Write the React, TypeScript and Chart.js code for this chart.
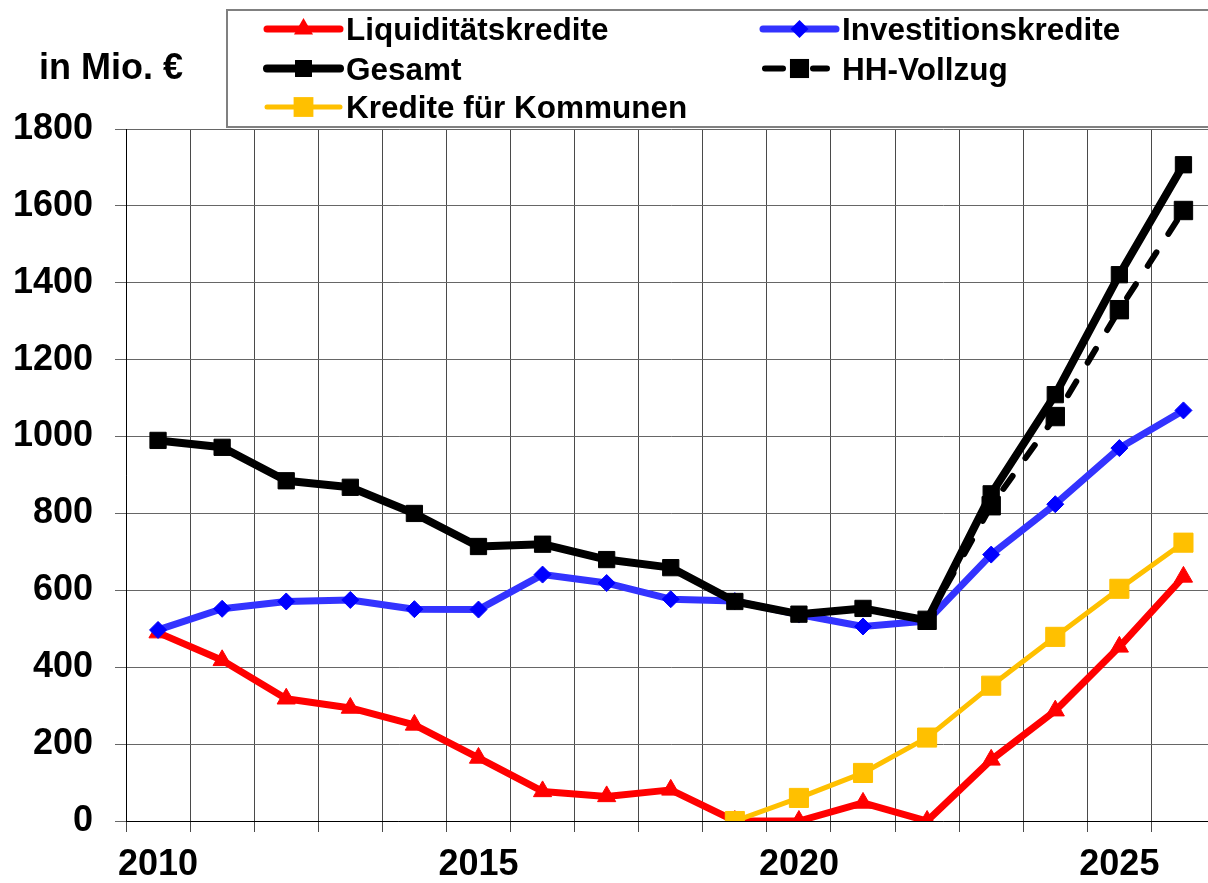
import React, { useEffect, useRef } from 'react';
import { Chart, registerables } from 'chart.js';

Chart.register(...registerables);

const years = ['2010', '2011', '2012', '2013', '2014', '2015', '2016', '2017', '2018', '2019', '2020', '2021', '2022', '2023', '2024', '2025', '2026'];
const liquiditaetskredite = [490, 418, 318, 294, 250, 164, 77, 64, 81, 0, 0, 47, 0, 159, 287, 453, 635];
const investitionskredite = [497, 552, 571, 575, 551, 550, 641, 619, 577, 572, 537, 506, 520, 693, 824, 970, 1068];
const gesamt = [990, 972, 885, 868, 800, 714, 720, 680, 659, 571, 538, 553, 522, 851, 1109, 1421, 1707];
const hhVollzug = [null, null, null, null, null, null, null, null, null, null, null, null, 522, 820, 1052, 1330, 1588];
const krediteKommunen = [null, null, null, null, null, null, null, null, null, 0, 60, 125, 217, 352, 479, 604, 724];
const yTicks = [0, 200, 400, 600, 800, 1000, 1200, 1400, 1600, 1800];
const xLabelYears = ['2010', '2015', '2020', '2025'];

const FONT = '"Liberation Sans", Arial, sans-serif';

function drawMarker(ctx: CanvasRenderingContext2D, style: string, x: number, y: number, r: number, color: string) {
  ctx.fillStyle = color;
  ctx.beginPath();
  if (style === 'rect') {
    const s = Math.SQRT1_2 * r;
    ctx.rect(x - s, y - s, 2 * s, 2 * s);
  } else if (style === 'rectRot') {
    ctx.moveTo(x - r, y);
    ctx.lineTo(x, y - r);
    ctx.lineTo(x + r, y);
    ctx.lineTo(x, y + r);
    ctx.closePath();
  } else if (style === 'triangle') {
    const a = (2 * Math.PI) / 3;
    ctx.moveTo(x, y - r);
    ctx.lineTo(x + Math.sin(a) * r, y - Math.cos(a) * r);
    ctx.lineTo(x + Math.sin(2 * a) * r, y - Math.cos(2 * a) * r);
    ctx.closePath();
  }
  ctx.fill();
}

const overlayPlugin = {
  id: 'overlay',
  afterDraw(chart: any) {
    const ctx: CanvasRenderingContext2D = chart.ctx;
    ctx.save();
    // unit title
    ctx.font = `bold 36px ${FONT}`;
    ctx.fillStyle = '#000';
    ctx.textAlign = 'left';
    ctx.textBaseline = 'alphabetic';
    ctx.fillText('in Mio. €', 39, 79);

    // legend box
    ctx.fillStyle = '#fff';
    ctx.fillRect(227, 10, 1100, 117);
    ctx.strokeStyle = '#808080';
    ctx.lineWidth = 2;
    ctx.strokeRect(227, 10, 1100, 117);

    const items = [
      { ds: 4, x: 267, y: 29 },
      { ds: 0, x: 267, y: 68.5 },
      { ds: 3, x: 267, y: 107 },
      { ds: 2, x: 763, y: 29 },
      { ds: 1, x: 763, y: 68.5 },
    ];
    items.forEach((it) => {
      const d: any = chart.data.datasets[it.ds];
      ctx.strokeStyle = d.borderColor;
      ctx.lineWidth = d.borderWidth;
      ctx.lineCap = 'round';
      ctx.setLineDash([]);
      ctx.beginPath();
      if (d.borderDash && d.borderDash.length) {
        ctx.moveTo(it.x + 2, it.y);
        ctx.lineTo(it.x + 20, it.y);
        ctx.moveTo(it.x + 50, it.y);
        ctx.lineTo(it.x + 64, it.y);
      } else {
        ctx.moveTo(it.x, it.y);
        ctx.lineTo(it.x + 73, it.y);
      }
      ctx.stroke();
      drawMarker(ctx, d.pointStyle, it.x + 36.5, it.y, d.pointRadius + 0.5, d.pointBackgroundColor);
      ctx.fillStyle = '#000';
      ctx.font = `bold 31.5px ${FONT}`;
      ctx.textBaseline = 'alphabetic';
      ctx.fillText(d.label, it.x + 79, it.y + 11);
    });
    ctx.restore();
  },
};

export default function App() {
  const ref = useRef<HTMLCanvasElement | null>(null);

  useEffect(() => {
    if (!ref.current) return;
    const chart = new Chart(ref.current, {
      type: 'line',
      data: {
        labels: years,
        datasets: [
          {
            label: 'Gesamt',
            data: gesamt,
            borderColor: '#000000',
            backgroundColor: '#000000',
            borderWidth: 8,
            pointStyle: 'rect',
            pointRadius: 11.5,
            pointBackgroundColor: '#000000',
            pointBorderColor: '#000000',
            pointBorderWidth: 1,
            borderJoinStyle: 'round',
            tension: 0,
          },
          {
            label: 'HH-Vollzug',
            data: hhVollzug,
            borderColor: '#000000',
            backgroundColor: '#000000',
            borderWidth: 6,
            borderDash: [16, 22],
            borderCapStyle: 'round',
            pointStyle: 'rect',
            pointRadius: 13,
            pointBackgroundColor: '#000000',
            pointBorderColor: '#000000',
            pointBorderWidth: 1,
            tension: 0,
          },
          {
            label: 'Investitionskredite',
            data: investitionskredite,
            borderColor: '#3333FF',
            backgroundColor: '#0000FF',
            borderWidth: 7,
            pointStyle: 'rectRot',
            pointRadius: 8.5,
            pointBackgroundColor: '#0000FF',
            pointBorderColor: '#0000FF',
            pointBorderWidth: 1,
            borderJoinStyle: 'round',
            tension: 0,
          },
          {
            label: 'Kredite für Kommunen',
            data: krediteKommunen,
            borderColor: '#FFC000',
            backgroundColor: '#FFC000',
            borderWidth: 5,
            pointStyle: 'rect',
            pointRadius: 13.5,
            pointBackgroundColor: '#FFC000',
            pointBorderColor: '#FFC000',
            pointBorderWidth: 1,
            borderJoinStyle: 'round',
            tension: 0,
          },
          {
            label: 'Liquiditätskredite',
            data: liquiditaetskredite,
            borderColor: '#FF0000',
            backgroundColor: '#FF0000',
            borderWidth: 7,
            pointStyle: 'triangle',
            pointRadius: 10.5,
            pointBackgroundColor: '#FF0000',
            pointBorderColor: '#FF0000',
            pointBorderWidth: 1,
            borderJoinStyle: 'round',
            tension: 0,
          },
        ] as any,
      },
      options: {
        animation: false,
        responsive: false,
        maintainAspectRatio: false,
        layout: { padding: { top: 129, left: 0, right: 12, bottom: 0 } },
        plugins: {
          legend: { display: false },
          tooltip: { enabled: false },
          title: { display: false },
        },
        scales: {
          x: {
            type: 'category',
            offset: true,
            grid: {
              offset: true,
              color: '#4a4a4a',
              lineWidth: 1,
              tickLength: 11,
              drawTicks: true,
            },
            border: { color: '#000000', width: 1 },
            ticks: {
              autoSkip: false,
              maxRotation: 0,
              minRotation: 0,
              padding: 11,
              color: '#000000',
              font: { family: FONT, size: 36, weight: 'bold' },
              callback: function (this: any, value: any) {
                const lbl = years[value as number];
                return xLabelYears.includes(lbl) ? lbl : '';
              },
            },
            afterFit: (scale: any) => {
              scale.height = 62;
            },
          },
          y: {
            min: yTicks[0],
            max: yTicks[yTicks.length - 1],
            grid: {
              color: '#666666',
              lineWidth: 1,
              tickLength: 11,
              drawTicks: true,
            },
            border: { color: '#000000', width: 1 },
            ticks: {
              stepSize: 200,
              padding: 22,
              color: '#000000',
              font: { family: FONT, size: 36, weight: 'bold' },
              callback: (value: any) => String(value),
            },
            afterFit: (scale: any) => {
              scale.width = 126;
            },
          },
        },
      } as any,
      plugins: [overlayPlugin],
    });
    return () => chart.destroy();
  }, []);

  return (
    <div style={{ position: 'absolute', left: 0, top: 0, width: 1208, height: 883, overflow: 'hidden', background: '#fff' }}>
      <canvas ref={ref} width={1230} height={883} style={{ display: 'block', width: 1230, height: 883 }} />
    </div>
  );
}
